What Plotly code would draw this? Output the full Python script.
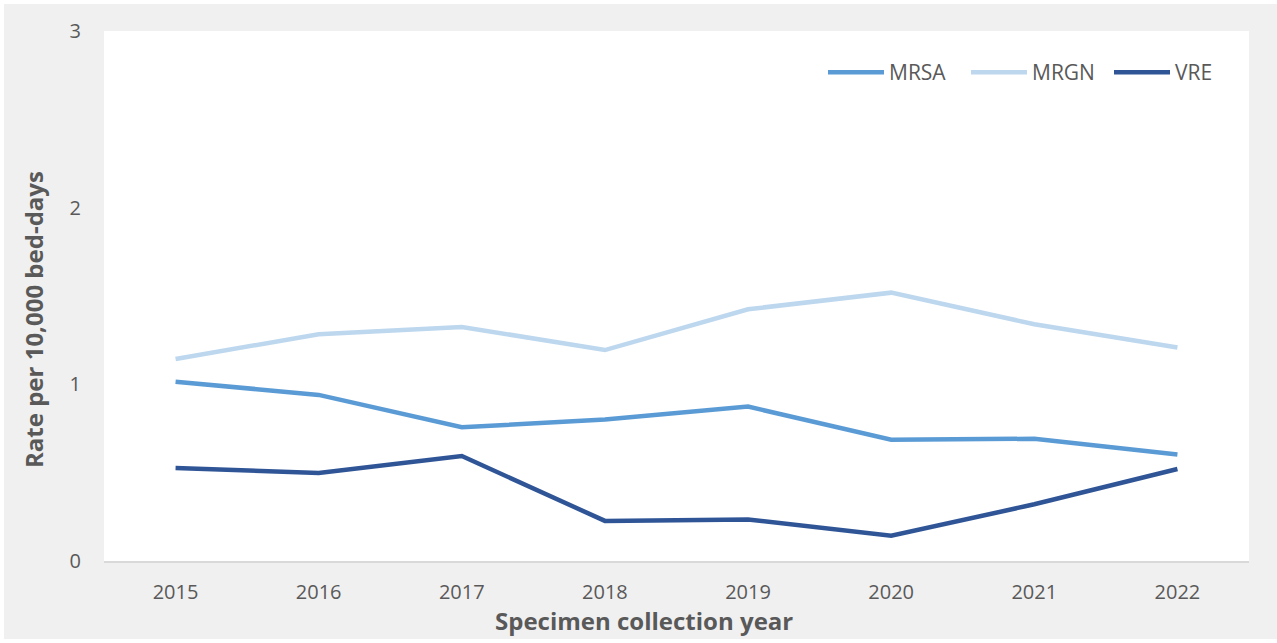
import plotly.graph_objects as go

# Collection years and rates per 10,000 bed-days
years = ["2015", "2016", "2017", "2018", "2019", "2020", "2021", "2022"]
mrsa = [1.015, 0.94, 0.757, 0.801, 0.874, 0.686, 0.692, 0.603]
mrgn = [1.143, 1.284, 1.325, 1.194, 1.425, 1.519, 1.34, 1.209]
vre = [0.526, 0.498, 0.594, 0.227, 0.235, 0.143, 0.321, 0.521]

y_ticks = [0, 1, 2, 3]

series = [
    ("MRSA", mrsa, "#5b9bd5"),
    ("MRGN", mrgn, "#bdd7ee"),
    ("VRE", vre, "#2f5597"),
]

FONT = "Open Sans"
TEXT_COLOR = "#595959"

W, H = 1277, 643
ML, MR, MT, MB = 104, 28, 31, 82
pw, ph = W - ML - MR, H - MT - MB

fig = go.Figure()
for name, vals, color in series:
    fig.add_trace(go.Scatter(
        x=years, y=vals, name=name, mode="lines",
        line=dict(color=color, width=4.5),
    ))

# grey frame around the chart, then the white plotting area on top of it
fig.add_shape(
    type="rect", xref="paper", yref="paper", layer="below",
    x0=(4 - ML) / pw, x1=(W - ML) / pw,
    y0=-(H - 4 - MT - ph) / ph, y1=(ph + MT - 4) / ph,
    fillcolor="#f0f0f0", line=dict(width=0),
)
fig.add_shape(
    type="rect", xref="paper", yref="paper", layer="below",
    x0=0, x1=1, y0=0, y1=1,
    fillcolor="white", line=dict(width=0),
)

fig.update_layout(
    width=W, height=H,
    margin=dict(l=ML, r=MR, t=MT, b=MB, pad=0, autoexpand=False),
    paper_bgcolor="white",
    plot_bgcolor="white",
    font=dict(family=FONT, size=20, color=TEXT_COLOR),
    showlegend=True,
    legend=dict(
        orientation="h", x=(823 - ML) / pw, y=(MT + ph - 52) / ph,
        xanchor="left", yanchor="top",
        bgcolor="rgba(0,0,0,0)", itemwidth=56,
        entrywidth=72, entrywidthmode="pixels",
        font=dict(family=FONT, size=21, color=TEXT_COLOR),
    ),
    xaxis=dict(
        type="category", range=[-0.5, 7.5],
        showgrid=False, zeroline=False,
        showline=True, linecolor="#d9d9d9", linewidth=1.5,
        ticks="outside", ticklen=12, tickcolor="rgba(0,0,0,0)",
        tickfont=dict(family=FONT, size=20, color=TEXT_COLOR),
    ),
    yaxis=dict(
        range=[0, 3], tickvals=y_ticks,
        showgrid=False, zeroline=False, showline=False,
        ticks="outside", ticklen=18, tickcolor="rgba(0,0,0,0)",
        tickfont=dict(family=FONT, size=20, color=TEXT_COLOR),
    ),
    annotations=[
        dict(
            text="<b>Specimen collection year</b>", xref="paper", yref="paper",
            x=(644 - ML) / pw, y=-(620 - MT - ph) / ph,
            xanchor="center", yanchor="middle", showarrow=False,
            font=dict(family=FONT, size=24, color=TEXT_COLOR),
        ),
        dict(
            text="<b>Rate per 10,000 bed-days</b>", xref="paper", yref="paper",
            x=-(ML - 33) / pw, y=(MT + ph - 320) / ph,
            xanchor="center", yanchor="middle", showarrow=False, textangle=-90,
            font=dict(family=FONT, size=24, color=TEXT_COLOR),
        ),
    ],
)

fig.write_html("out.html")
